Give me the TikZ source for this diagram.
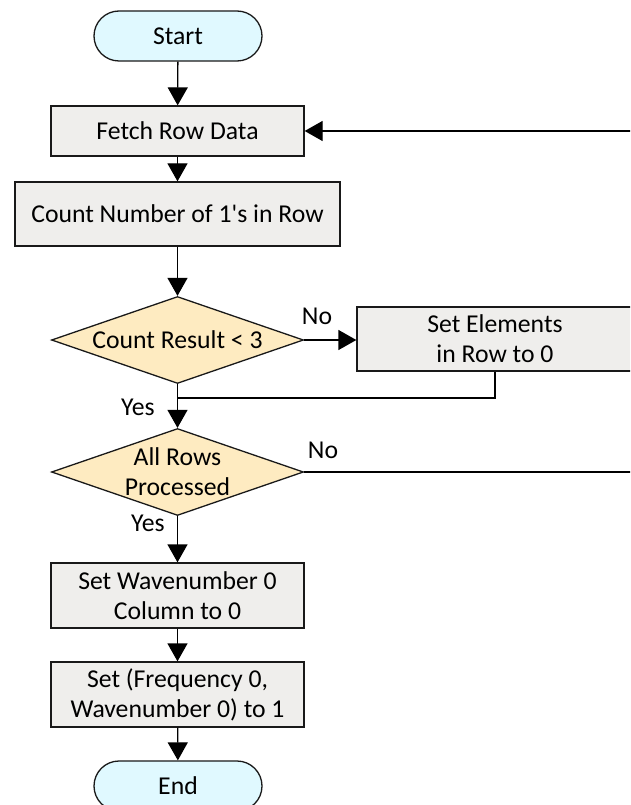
\documentclass[tikz,border=0pt]{standalone}
\usepackage{fontspec}
\setmainfont{Carlito}
\usetikzlibrary{shapes.geometric,arrows.meta}
\definecolor{termfill}{HTML}{E0F9FF}
\definecolor{procfill}{HTML}{EFEEEC}
\definecolor{decfill}{HTML}{FEEBC1}
\begin{document}
\begin{tikzpicture}[x=1pt,y=-1pt,
  every node/.style={font=\fontsize{25.7}{30}\selectfont},
  base/.style={draw=black!90, line width=1.3pt, align=center, inner sep=0pt},
  term/.style={base, fill=termfill, rounded corners=25pt, minimum width=168pt, minimum height=50pt},
  proc/.style={base, fill=procfill, minimum width=253pt},
  decision/.style={base, diamond, fill=decfill, minimum width=252pt, minimum height=87pt, shape aspect=2.9},
  flow/.style={line width=1.3pt, -{Triangle[length=18pt,width=20pt]}},
  conn/.style={line width=1.3pt},
  lab/.style={inner sep=0pt, align=center}
]
\useasboundingbox (0,0) rectangle (630,805);
\clip (0,0) rectangle (630,805);

\node[term] (start) at (178,36) {Start};
\node[proc, minimum height=50pt] (fetch) at (177.5,131) {Fetch Row Data};
\node[proc, minimum width=325pt, minimum height=64pt] (count) at (177.5,214) {Count Number of 1\textquotesingle s in Row};
\node[decision, label={[lab]center:Count Result < 3}] (d1) at (177.5,340) {};
\node[proc, minimum width=276pt, minimum height=64pt] (setel) at (495,339) {Set Elements\\in Row to 0};
\node[decision, label={[lab]center:All Rows\\Processed}] (d2) at (177.5,472) {};
\node[proc, minimum height=65pt] (wave) at (177.5,595.5) {Set Wavenumber 0\\Column to 0};
\node[proc, minimum height=65pt] (freq) at (177.5,694.5) {Set (Frequency 0,\\Wavenumber 0) to 1};
\node[term] (end) at (178,786) {End};

\coordinate (j) at (177.5,398);
\coordinate (loopR) at (660,472);

\draw[flow] (start) -- (fetch);
\draw[flow] (fetch) -- (count);
\draw[flow] (count) -- (d1);
\draw[flow] (d1.east) -- (d1.east -| setel.west);
\draw[conn] (setel.south) |- (j);
\draw[flow] (d1) -- (d2);
\draw[flow] (d2.east) -- (loopR) |- (fetch.east);
\draw[flow] (d2) -- (wave);
\draw[flow] (wave) -- (freq);
\draw[flow] (freq) -- (end);

\node (no1) at (317,316) {No};
\node (yes1) at (138,407) {Yes};
\node (no2) at (323,450) {No};
\node (yes2) at (148,523) {Yes};
\end{tikzpicture}
\end{document}
